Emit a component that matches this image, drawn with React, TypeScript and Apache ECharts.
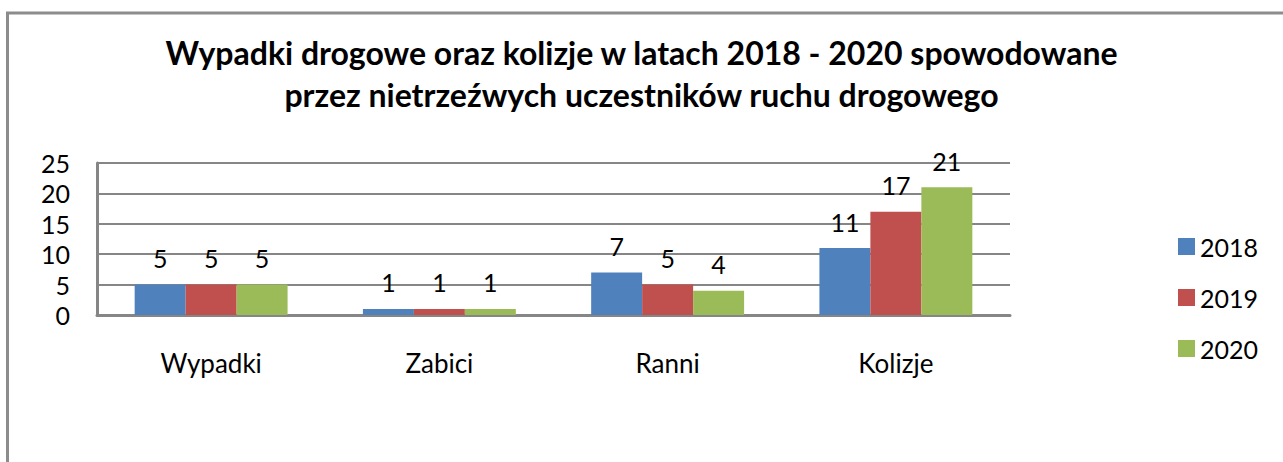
import React, { useEffect, useRef } from "react";
import * as echarts from "echarts";

const categories = ["Wypadki", "Zabici", "Ranni", "Kolizje"];
const seriesNames = ["2018", "2019", "2020"];
const values2018 = [5, 1, 7, 11];
const values2019 = [5, 1, 5, 17];
const values2020 = [5, 1, 4, 21];
const colors = ["#4F81BD", "#C0504D", "#9BBB59"];
const titleText = "Wypadki drogowe oraz kolizje w latach 2018 - 2020 spowodowane\nprzez nietrzeźwych uczestników ruchu drogowego";

const FONT = "Lato, 'Noto Sans', sans-serif";

export default function App() {
  const ref = useRef<HTMLDivElement>(null);
  useEffect(() => {
    document.body.style.margin = "0";
    const chart = echarts.init(ref.current!, null, { renderer: "svg" });
    const data = [values2018, values2019, values2020];
    chart.setOption({
      animation: false,
      backgroundColor: "#ffffff",
      textStyle: { fontFamily: FONT },
      title: {
        text: titleText,
        left: "center",
        top: 26,
        textStyle: { fontFamily: FONT, fontSize: 32, fontWeight: "bold", color: "#000", lineHeight: 42 },
      },
      graphic: [
        {
          type: "rect",
          shape: { x: 7.5, y: 13, width: 1300, height: 500 },
          style: { fill: "none", stroke: "#8c8c8c", lineWidth: 3 },
          silent: true,
        },
      ],
      legend: {
        orient: "vertical",
        left: 1173,
        top: 229,
        itemWidth: 17,
        itemHeight: 17,
        itemGap: 26,
        icon: "rect",
        textStyle: { fontFamily: FONT, fontSize: 25, color: "#000" },
        data: seriesNames,
      },
      grid: { left: 97, right: 273, top: 163, bottom: 147, containLabel: false },
      xAxis: {
        type: "category",
        data: categories,
        axisLine: { lineStyle: { color: "#868686", width: 3 } },
        axisTick: { show: false },
        axisLabel: { margin: 35, fontSize: 26, color: "#000", fontFamily: FONT },
      },
      yAxis: {
        type: "value",
        min: 0,
        max: 25,
        interval: 5,
        axisLine: { show: true, lineStyle: { color: "#868686", width: 3 } },
        axisTick: { show: false },
        axisLabel: { margin: 27, fontSize: 25, color: "#000", fontFamily: FONT },
        splitLine: { lineStyle: { color: "#868686", width: 2 } },
      },
      series: seriesNames.map((name, i) => ({
        name,
        type: "bar",
        data: data[i],
        barGap: "0%",
        barCategoryGap: "33%",
        itemStyle: { color: colors[i] },
        label: {
          show: true,
          position: "top",
          distance: 14,
          fontSize: 25,
          color: "#000",
          fontFamily: FONT,
        },
      })),
    });
    return () => chart.dispose();
  }, []);
  return <div ref={ref} style={{ width: 1283, height: 462 }} />;
}
